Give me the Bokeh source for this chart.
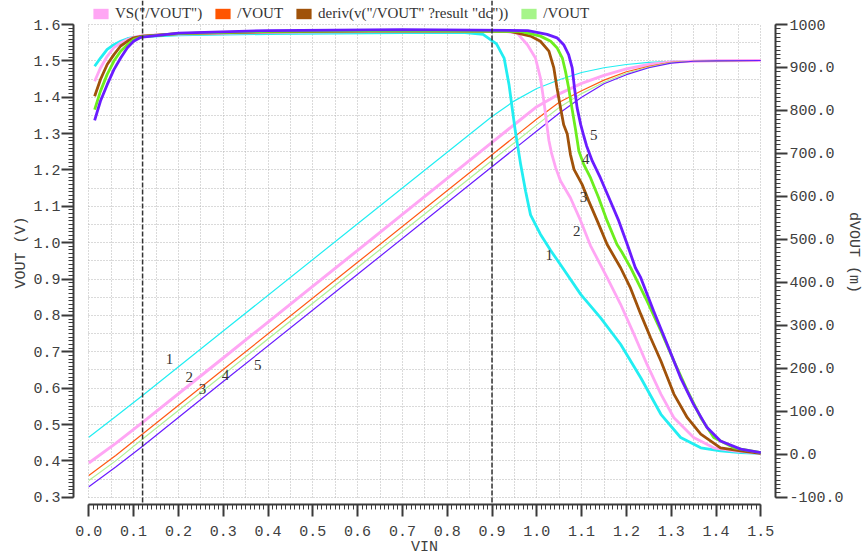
from bokeh.plotting import figure
from bokeh.models import (Range1d, LinearAxis, FixedTicker, PrintfTickFormatter, Grid,
                          Span, Legend, LegendItem)
from bokeh.core.properties import value
from bokeh.embed import file_html
from bokeh.resources import INLINE

# ---------------- data ----------------
vin = [0.0, 0.06, 0.12, 0.3, 0.6, 0.9, 0.95, 1.0, 1.05, 1.1, 1.15, 1.2, 1.25, 1.3, 1.35, 1.4, 1.5]
vout_1 = [0.465, 0.522, 0.580, 0.757, 1.052, 1.347, 1.390, 1.424, 1.448, 1.468, 1.481, 1.490, 1.496, 1.499, 1.500, 1.501, 1.501]
vout_2 = [0.394, 0.448, 0.506, 0.683, 0.979, 1.276, 1.325, 1.374, 1.409, 1.438, 1.460, 1.478, 1.490, 1.497, 1.499, 1.500, 1.501]
vout_3 = [0.360, 0.415, 0.474, 0.651, 0.946, 1.242, 1.291, 1.340, 1.386, 1.418, 1.447, 1.470, 1.485, 1.496, 1.499, 1.500, 1.501]
vout_4 = [0.346, 0.400, 0.460, 0.637, 0.932, 1.226, 1.275, 1.324, 1.372, 1.410, 1.441, 1.466, 1.483, 1.495, 1.499, 1.500, 1.501]
vout_5 = [0.329, 0.383, 0.440, 0.618, 0.913, 1.209, 1.258, 1.307, 1.356, 1.400, 1.437, 1.462, 1.481, 1.494, 1.499, 1.500, 1.501]

dv_x_1 = [0.013, 0.026, 0.041, 0.056, 0.071, 0.086, 0.1, 0.12, 0.2, 0.4, 0.7, 0.84, 0.88, 0.91, 0.927,
          0.938, 0.946, 0.952, 0.964, 0.975, 0.986, 1.008, 1.031, 1.053, 1.098, 1.142, 1.187, 1.232,
          1.277, 1.321, 1.366, 1.41, 1.455, 1.5]
dv_1 = [903, 922, 942, 953, 961, 967, 970, 972, 976, 979, 981, 981, 977, 955, 922,
        860, 798, 752, 674, 612, 557, 512, 474, 441, 372, 318, 256, 178,
        93, 39, 15, 8, 4, 2]
dv_x_2 = [0.013, 0.026, 0.041, 0.056, 0.071, 0.086, 0.1, 0.12, 0.2, 0.4, 0.7, 0.93, 0.956, 0.979,
          0.997, 1.008, 1.016, 1.022, 1.027, 1.033, 1.042, 1.053, 1.075, 1.098, 1.12, 1.157, 1.187,
          1.217, 1.246, 1.277, 1.306, 1.35, 1.395, 1.44, 1.5]
dv_2 = [868, 899, 926, 946, 957, 965, 970, 974, 978, 982, 984, 984, 980, 953,
        922, 876, 820, 770, 730, 700, 667, 636, 597, 543, 485, 411, 349,
        279, 209, 140, 85, 39, 15, 8, 2]
dv_x_3 = [0.013, 0.026, 0.041, 0.056, 0.071, 0.086, 0.1, 0.12, 0.2, 0.4, 0.7, 0.94, 0.986, 1.008,
          1.027, 1.038, 1.045, 1.053, 1.06, 1.068, 1.075, 1.083, 1.101, 1.116, 1.135, 1.157, 1.187,
          1.209, 1.232, 1.254, 1.277, 1.306, 1.336, 1.366, 1.41, 1.455, 1.5]
dv_3 = [833, 872, 907, 930, 950, 961, 969, 973, 979, 983, 985, 984, 973, 961,
        938, 899, 853, 806, 767, 745, 698, 663, 628, 589, 543, 488, 434,
        387, 326, 271, 217, 140, 85, 47, 15, 8, 2]
dv_x_4 = [0.013, 0.026, 0.041, 0.056, 0.071, 0.086, 0.1, 0.12, 0.2, 0.4, 0.7, 0.964, 1.008, 1.031,
          1.045, 1.057, 1.064, 1.071, 1.079, 1.087, 1.094, 1.105, 1.12, 1.138, 1.157, 1.179, 1.19,
          1.211, 1.246, 1.277, 1.306, 1.336, 1.366, 1.395, 1.44, 1.5]
dv_4 = [802, 845, 884, 915, 938, 953, 965, 972, 979, 984, 986, 984, 973, 961,
        946, 922, 891, 853, 802, 752, 705, 674, 643, 597, 543, 488, 470,
        431, 357, 287, 217, 148, 85, 39, 15, 4]
dv_x_5 = [0.013, 0.026, 0.041, 0.056, 0.071, 0.086, 0.1, 0.115, 0.2, 0.4, 0.7, 0.98, 1.023, 1.045,
          1.06, 1.071, 1.079, 1.084, 1.09, 1.098, 1.105, 1.111, 1.124, 1.142, 1.161, 1.183, 1.202,
          1.22, 1.232, 1.261, 1.291, 1.321, 1.35, 1.38, 1.41, 1.455, 1.5]
dv_5 = [777, 822, 860, 895, 922, 946, 961, 970, 980, 986, 988, 986, 977, 969,
        953, 930, 899, 853, 806, 767, 740, 718, 682, 643, 597, 543, 488,
        434, 411, 333, 256, 178, 116, 62, 31, 12, 4]

marker_x = [0.12, 0.9]
curve_ids = ["1", "2", "3", "4", "5"]
id_x_vout = [0.180, 0.224, 0.254, 0.305, 0.377]
id_y_vout = [0.679, 0.632, 0.597, 0.637, 0.665]
id_x_dv = [1.028, 1.089, 1.104, 1.109, 1.127]
id_y_dv = [0.967, 1.031, 1.127, 1.231, 1.297]

legend_labels = ['VS("/VOUT")', '/VOUT', 'deriv(v("/VOUT" ?result "dc"))', '/VOUT']
legend_colors = ["#ffa6f4", "#ff5500", "#a0520a", "#a6f58a"]

x_major = [round(i * 0.1, 1) for i in range(16)]
x_minor = [round(i * 0.01, 2) for i in range(151)]
y_major = [round(0.3 + i * 0.1, 1) for i in range(14)]
y_minor = [round(0.3 + i * 0.01, 2) for i in range(131)]
r_major = [-100 + 100 * i for i in range(12)]
r_minor = [-100 + 10 * i for i in range(111)]
grid_x = [round(i * 0.05, 2) for i in range(31)]
grid_y = [round(0.3 + i * 0.05, 2) for i in range(27)]

thin_colors = ["#22eef2", "#ffa6f4", "#ff5a14", "#b2f296", "#6a1cff"]
thin_widths = [1.2, 3, 1.2, 1.2, 1.2]
thick_colors = ["#22eef2", "#ffa6f4", "#a0520a", "#6cee1e", "#6a1cff"]

# ---------------- figure ----------------
MONO = "Liberation Mono"
SERIF = "Liberation Serif"
NAN = float("nan")

# frame spans page y 0..504 and x 73..775; 1.6 V sits 24 px below the frame top
p = figure(width=864, height=558, output_backend="svg", toolbar_location=None,
           x_range=Range1d(-0.0342, 1.5328), y_range=Range1d(0.28, 1.666),
           x_axis_location=None, y_axis_location=None,
           min_border_left=73, min_border_right=89, min_border_top=0, min_border_bottom=54)
p.outline_line_color = None
p.background_fill_color = "white"
p.border_fill_color = "white"
p.grid.visible = False
p.extra_y_ranges = {"dv": Range1d(-116.92, 1055.9)}


def style_axis(ax):
    ax.axis_line_color = "#3a3a3a"
    ax.axis_line_width = 2
    ax.major_tick_line_color = "#3a3a3a"
    ax.major_tick_line_width = 2
    ax.minor_tick_line_color = "#3a3a3a"
    ax.minor_tick_line_width = 1
    ax.major_tick_in = 0
    ax.minor_tick_in = 0
    ax.major_tick_out = 12
    ax.minor_tick_out = 5
    ax.major_label_text_font = MONO
    ax.major_label_text_font_size = "15px"
    ax.major_label_text_color = "#404040"
    ax.axis_label_text_font = MONO
    ax.axis_label_text_font_size = "15px"
    ax.axis_label_text_font_style = "normal"
    ax.axis_label_text_color = "#404040"


xaxis = LinearAxis(ticker=FixedTicker(ticks=x_major, minor_ticks=x_minor),
                   formatter=PrintfTickFormatter(format="%.1f"), axis_label="VIN",
                   bounds=(0, 1.5))
style_axis(xaxis)
xaxis.major_label_standoff = 9
xaxis.axis_label_standoff = 0
p.add_layout(xaxis, "below")

yaxis = LinearAxis(ticker=FixedTicker(ticks=y_major, minor_ticks=y_minor),
                   formatter=PrintfTickFormatter(format="%.1f"), axis_label="VOUT (V)",
                   bounds=(0.3, 1.6))
style_axis(yaxis)
yaxis.major_label_standoff = 1
yaxis.axis_label_standoff = 0
p.add_layout(yaxis, "left")

raxis = LinearAxis(y_range_name="dv", ticker=FixedTicker(ticks=r_major, minor_ticks=r_minor),
                   formatter=PrintfTickFormatter(format="%.1f"), axis_label="dVOUT (m)",
                   bounds=(-100, 1000))
style_axis(raxis)
raxis.major_label_standoff = 2
raxis.axis_label_standoff = -2
raxis.major_label_overrides = {1000: "1000"}
p.add_layout(raxis, "right")

# grids every 0.05
gx = Grid(dimension=0, ticker=FixedTicker(ticks=grid_x), grid_line_color="#b4b4b4",
          grid_line_dash="1 2", grid_line_width=1)
gy = Grid(dimension=1, ticker=FixedTicker(ticks=grid_y), grid_line_color="#b4b4b4",
          grid_line_dash="1 2", grid_line_width=1)
if "cross_bounds" in Grid.properties():
    gx.cross_bounds = (0.3, 1.6)
    gy.cross_bounds = (0.0, 1.5)
p.add_layout(gx)
p.add_layout(gy)

# thin VOUT curves (left axis)
for ys, c, w in zip([vout_1, vout_2, vout_3, vout_4, vout_5], thin_colors, thin_widths):
    p.line(vin, ys, line_color=c, line_width=w)

# thick derivative curves (right axis)
for xs, ys, c in zip([dv_x_1, dv_x_2, dv_x_3, dv_x_4, dv_x_5],
                     [dv_1, dv_2, dv_3, dv_4, dv_5], thick_colors):
    p.line(xs, ys, line_color=c, line_width=2.8, y_range_name="dv")

# vertical markers
for m in marker_x:
    p.add_layout(Span(location=m, dimension="height", line_color="#333333",
                      line_dash="5 2", line_width=1.5))

# curve number labels
p.text(x=id_x_vout, y=id_y_vout, text=curve_ids, text_font=value(SERIF),
       text_font_size="15px", text_color="#333333", text_align="center", text_baseline="middle")
p.text(x=id_x_dv, y=id_y_dv, text=curve_ids, text_font=value(SERIF),
       text_font_size="15px", text_color="#333333", text_align="center", text_baseline="middle")

# legend with square swatches (legend-only renderers holding a single NaN row)
items = []
for lbl, c in zip(legend_labels, legend_colors):
    r = p.quad(left=[NAN], right=[NAN], top=[NAN], bottom=[NAN], fill_color=c, line_color=None)
    items.append(LegendItem(label=lbl, renderers=[r]))
legend = Legend(items=items, orientation="horizontal", location=(18, 482),
                glyph_width=19, glyph_height=13, label_standoff=5, spacing=11,
                padding=0, margin=0, border_line_color=None, background_fill_alpha=0,
                label_text_font=SERIF, label_text_font_size="15px", label_text_color="#333333")
p.add_layout(legend)

open("out.html", "w").write(file_html(p, INLINE))
